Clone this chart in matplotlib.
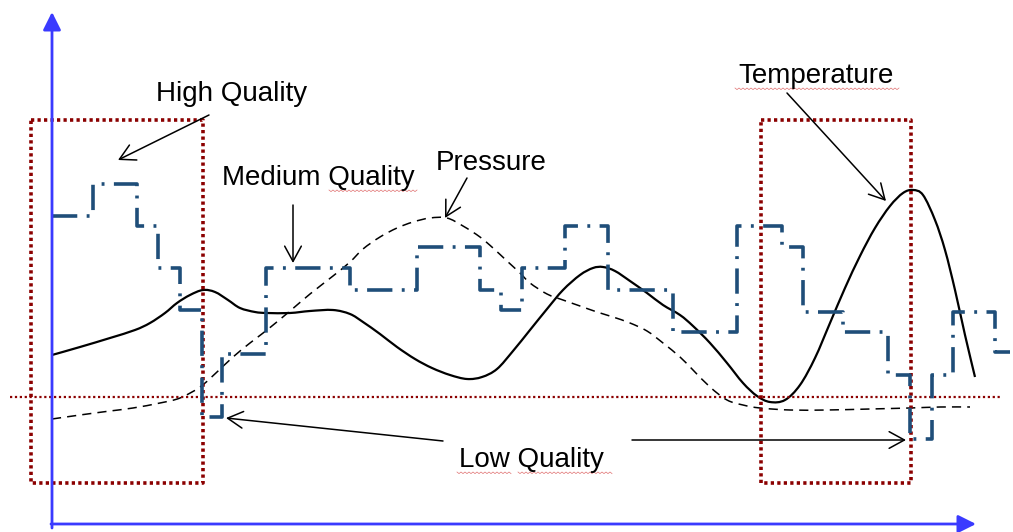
import matplotlib
matplotlib.use("Agg")
import matplotlib.pyplot as plt
from matplotlib.path import Path
from matplotlib.patches import PathPatch
import numpy as np

plt.rcParams['font.family'] = ['Liberation Sans', 'DejaVu Sans']

# ---- data (pixel-like units: x right, y down) ----
step_x = [52, 93, 137, 158, 180, 202, 222, 266, 350, 417, 480, 501, 522, 565,
          608, 673, 737, 782, 803, 843, 888, 910, 932, 953, 995, 1010]
step_y = [216, 184, 226, 268, 310, 417, 354, 268, 290, 247, 290, 310, 268, 226,
          290, 332, 226, 247, 312, 332, 375, 439, 375, 312, 352, 352]

temp_x = [52, 80, 110, 135, 150, 165, 177, 190, 203, 215, 228, 240, 255, 267,
          290, 310, 333, 350, 363, 380, 397, 415, 432, 450, 467, 482, 497, 513,
          530, 547, 563, 580, 593, 603, 615, 630, 647, 663, 680, 693, 710, 727,
          743, 757, 770, 785, 800, 815, 830, 845, 860, 875, 890, 903, 913, 923,
          935, 945, 955, 965, 975]
temp_y = [355, 347, 338, 330, 323, 313, 303, 295, 290, 292, 300, 308, 312, 313,
          313, 311, 310, 314, 322, 334, 347, 359, 368, 375, 379, 377, 369, 351,
          330, 309, 290, 275, 268, 267, 271, 281, 293, 305, 315, 326, 343, 363,
          383, 396, 402, 400, 385, 358, 323, 288, 256, 228, 206, 193, 190, 195,
          220, 250, 290, 335, 377]

pres_x = [52, 80, 110, 133, 160, 180, 200, 217, 233, 250, 267, 290, 310, 333,
          350, 363, 380, 397, 413, 430, 447, 463, 480, 493, 507, 520, 530, 547,
          563, 580, 597, 613, 630, 647, 663, 680, 693, 710, 727, 743, 760, 790,
          827, 870, 910, 940, 970]
pres_y = [419, 415, 411, 408, 403, 398, 387, 372, 357, 343, 330, 311, 294, 276,
          262, 249, 237, 228, 222, 218, 218, 226, 237, 248, 261, 273, 283, 294,
          300, 306, 312, 317, 323, 331, 343, 357, 370, 387, 400, 405, 408, 410,
          410, 409, 408, 407, 407]

labels = ["High Quality", "Medium Quality", "Pressure", "Temperature", "Low Quality"]
label_x = [232, 318, 491, 816, 531]
label_base = [101, 185, 170, 83, 467]

NAVY = '#1f4e79'
DRED = '#8b0000'
BLUE = '#3a3aff'


def smooth_path(xs, ys):
    """Cubic Bezier path passing through every given point (Catmull-Rom)."""
    p = np.column_stack([xs, ys]).astype(float)
    n = len(p)
    verts = [p[0]]
    codes = [Path.MOVETO]
    for i in range(n - 1):
        p0 = p[i - 1] if i > 0 else p[i]
        p1 = p[i]
        p2 = p[i + 1]
        p3 = p[i + 2] if i + 2 < n else p[i + 1]
        c1 = p1 + (p2 - p0) / 6.0
        c2 = p2 - (p3 - p1) / 6.0
        verts += [c1, c2, p2]
        codes += [Path.CURVE4] * 3
    return Path(verts, codes)


fig = plt.figure(figsize=(10.13, 5.32), dpi=100)
ax = fig.add_axes([0, 0, 1, 1])
ax.set_xlim(0, 1013)
ax.set_ylim(532, 0)
ax.axis('off')

# axes arrows
ax.annotate('', xy=(52, 12), xytext=(52, 528),
            arrowprops=dict(arrowstyle='-|>,head_length=0.6,head_width=0.3',
                            color=BLUE, lw=2, mutation_scale=18, shrinkA=0, shrinkB=0))
ax.annotate('', xy=(976, 524), xytext=(51, 524),
            arrowprops=dict(arrowstyle='-|>,head_length=0.6,head_width=0.3',
                            color=BLUE, lw=2, mutation_scale=18, shrinkA=0, shrinkB=0))

# dotted horizontal reference
ax.plot([10, 1000], [397, 397], color=DRED, lw=1.6, linestyle=(0, (1, 1.2)))

# dotted boxes
for (x0, x1) in [(31, 203), (761, 911)]:
    ax.plot([x0, x1, x1, x0, x0], [120, 120, 483, 483, 120], color=DRED,
            lw=2.6, linestyle=(0, (0.9, 0.9)), dash_capstyle='butt')

# step series
ax.step(step_x, step_y, where='post', color=NAVY, lw=2.6,
        linestyle=(0, (7, 2.6, 0.8, 2.6)), dash_capstyle='butt')

# pressure (dashed)
ax.add_patch(PathPatch(smooth_path(pres_x, pres_y), fill=False, edgecolor='black',
                       lw=1.1, linestyle=(0, (6, 4))))
# temperature (solid)
ax.add_patch(PathPatch(smooth_path(temp_x, temp_y), fill=False, edgecolor='black',
                       lw=1.6))

# labels
for t, x, y in zip(labels, label_x, label_base):
    ax.text(x, y, t, fontsize=20, ha='center', va='baseline', color='black')

# spell-check style wavy underlines
for (x0, x1, y) in [(329, 418, 190), (735, 899, 88), (457, 511, 472), (518, 612, 472)]:
    xs = np.arange(x0, x1 + 0.1, 2.0)
    ys = y + 1.6 * (np.arange(len(xs)) % 2)
    ax.plot(xs, ys, color='#e07070', lw=0.5)

arrow = dict(arrowstyle='->,head_length=0.55,head_width=0.3', color='black', lw=1.1,
             mutation_scale=20, shrinkA=0, shrinkB=0)
ax.annotate('', xy=(118, 160), xytext=(209, 115), arrowprops=arrow)
ax.annotate('', xy=(293, 263), xytext=(293, 205), arrowprops=arrow)
ax.annotate('', xy=(445, 218), xytext=(467, 178), arrowprops=arrow)
ax.annotate('', xy=(886, 201), xytext=(787, 93), arrowprops=arrow)
ax.annotate('', xy=(226, 418), xytext=(443, 441), arrowprops=arrow)
ax.annotate('', xy=(906, 440), xytext=(632, 440), arrowprops=arrow)

fig.savefig('out.png', dpi=100, facecolor='white')
